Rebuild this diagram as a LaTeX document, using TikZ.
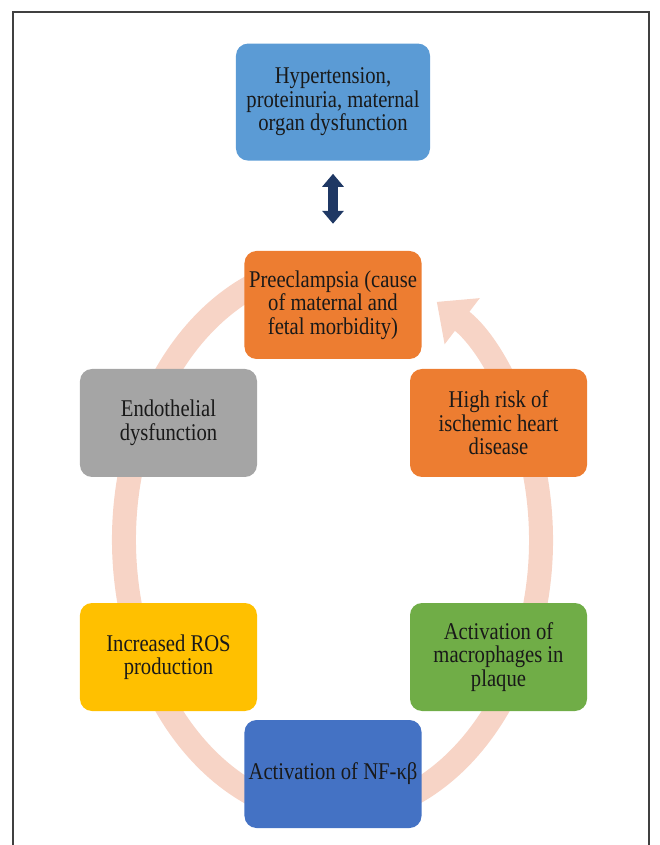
\documentclass[tikz,border=0pt]{standalone}
\usepackage{fontspec}
\setmainfont{Liberation Serif}[FakeStretch=0.86]
\usepackage{tikz}
\usetikzlibrary{arrows.meta,positioning}

\definecolor{hypblue}{HTML}{5B9BD5}
\definecolor{preorange}{HTML}{ED7D31}
\definecolor{endogray}{HTML}{A5A5A5}
\definecolor{rosgold}{HTML}{FFC000}
\definecolor{macgreen}{HTML}{70AD47}
\definecolor{nfblue}{HTML}{4472C4}
\definecolor{navy}{HTML}{1F3864}
\definecolor{bandpink}{HTML}{F7D4C6}

\begin{document}
\begin{tikzpicture}[x=1pt, y=1pt,
  box/.style={rectangle, rounded corners=12pt, minimum width=177pt, minimum height=108pt, align=center, inner sep=4pt, text=black!90, font=\fontsize{24}{23.5}\selectfont},
  cyc/.style={line width=24pt, draw=bandpink, -{Triangle[length=32pt, width=56pt]}},
  dbl/.style={line width=10pt, draw=navy, {Triangle[length=13pt, width=21pt]}-{Triangle[length=13pt, width=21pt]}},
  frame/.style={draw=black!75, line width=1.5pt},
  node distance=90pt
]

\useasboundingbox (-332.5,-305) rectangle (326.5,540);

% outer frame (open at the bottom)
\draw[frame] (-319.5,-306) -- (-319.5,528) -- (316.5,528) -- (316.5,-306);

% cycle arrow behind the boxes
\coordinate (arcstart) at (100:208.5 and 275);
\draw[cyc] (arcstart) arc[start angle=100, end angle=420, x radius=208.5, y radius=275];

% cycle boxes
\node[box, fill=preorange] (pre) at (0.5,235) {Preeclampsia (cause\\of maternal and\\fetal morbidity)};
\node[box, fill=endogray] (endo) at (-164,117) {Endothelial\\dysfunction};
\node[box, fill=preorange] (risk) at (166,117) {High risk of\\ischemic heart\\disease};
\node[box, fill=rosgold] (ros) at (-164,-117) {Increased ROS\\production};
\node[box, fill=macgreen] (macro) at (166,-117) {Activation of\\macrophages in\\plaque};
\node[box, fill=nfblue] (nfkb) at (0.5,-234) {Activation of NF-κβ};

% clinical signs on top
\node[box, fill=hypblue, minimum width=194pt, minimum height=117pt, above=90pt of pre] (hyp) {Hypertension,\\proteinuria, maternal\\organ dysfunction};

\draw[dbl, shorten <=13pt, shorten >=27pt] (hyp.south) -- (pre.north);

\end{tikzpicture}
\end{document}
